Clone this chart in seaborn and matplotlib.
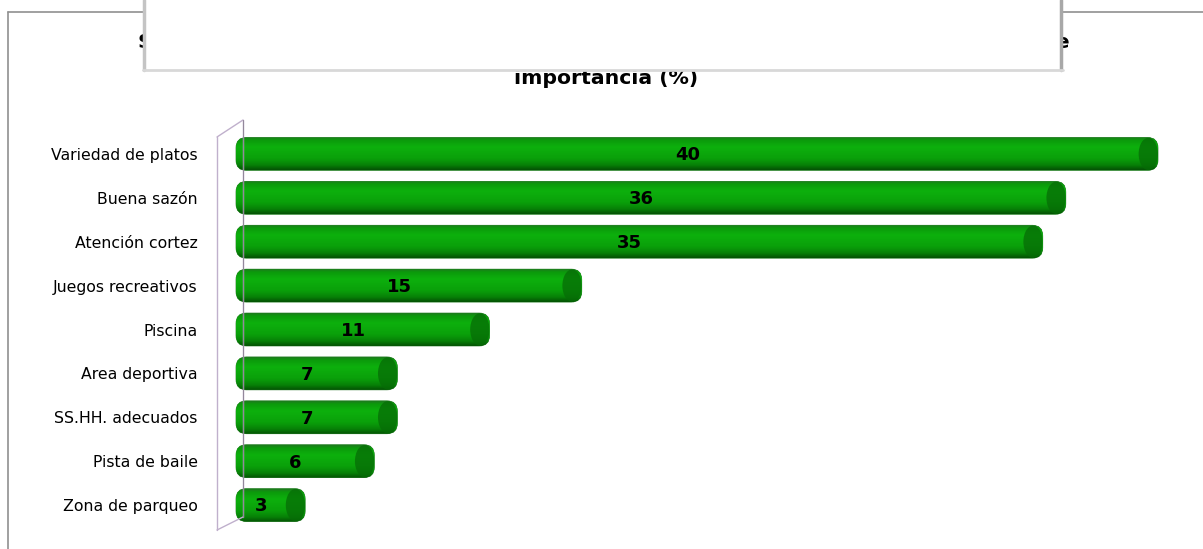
import matplotlib
matplotlib.use("Agg")
import matplotlib.pyplot as plt
import seaborn as sns
import numpy as np
import pandas as pd
from matplotlib.patches import FancyBboxPatch, Rectangle, Ellipse
from matplotlib.lines import Line2D
from matplotlib.colors import LinearSegmentedColormap

categories = ["Variedad de platos", "Buena sazón", "Atención cortez", "Juegos recreativos",
              "Piscina", "Area deportiva", "SS.HH. adecuados", "Pista de baile", "Zona de parqueo"]
values = [40, 36, 35, 15, 11, 7, 7, 6, 3]
title_line1 = "Servicios que los clientes esperan de un restaurante campestre, según orden de"
title_line2 = "importancia (%)"

df = pd.DataFrame({"servicio": categories, "valor": values})

sns.set_theme(style="white")
plt.rcParams["font.family"] = ["DejaVu Sans"]

W, H = 1203, 549
fig = plt.figure(figsize=(W / 100, H / 100), dpi=100)
fig.patch.set_facecolor("white")

def fx(px):
    return px / W

def fy(py):
    return 1 - py / H

ax_left, ax_right, ax_top, ax_bot = 217, 1180, 132, 527
ax = fig.add_axes([fx(ax_left), fy(ax_bot), fx(ax_right - ax_left), (ax_bot - ax_top) / H])

sns.barplot(data=df, x="valor", y="servicio", orient="h", color="#0aa00a",
            width=0.75, ax=ax, saturation=1)

cmap = LinearSegmentedColormap.from_list(
    "cyl", [(0.0, "#1d7a1d"), (0.08, "#0b9a0b"), (0.3, "#0db00d"),
            (0.65, "#0aa00a"), (0.85, "#078207"), (1.0, "#045204")])
grad = np.linspace(0, 1, 64).reshape(-1, 1)

scale = 23.05
for p in list(ax.patches):
    x, y, w, h = p.get_x(), p.get_y(), p.get_width(), p.get_height()
    p.set_visible(False)
    fb = FancyBboxPatch((x, y), w, h, boxstyle="round,pad=0,rounding_size=0.45",
                        mutation_aspect=0.53, facecolor="#0aa00a",
                        edgecolor="#2a7a2a", linewidth=0.5, zorder=3)
    ax.add_patch(fb)
    im = ax.imshow(grad, cmap=cmap, extent=(x, x + w, y + h, y), aspect="auto",
                   zorder=3.5, interpolation="bicubic")
    im.set_clip_path(fb)
    # darker elliptical end cap
    cap = Ellipse((x + w - 0.42, y + h / 2), 0.84, h * 0.98, facecolor="#066c06",
                  edgecolor="none", alpha=0.75, zorder=3.6)
    ax.add_patch(cap)
    cap.set_clip_path(fb)

for i, v in enumerate(values):
    ax.annotate(str(v), (v / 2, i), xytext=(-7, -1), textcoords="offset points",
                ha="center", va="center", fontsize=13, fontweight="bold",
                color="black", zorder=5)

ax.set_xlim(-(236 - ax_left) / scale, (ax_right - 236) / scale)
ax.set_ylim(len(categories) - 0.5, -0.5)
for s in ax.spines.values():
    s.set_visible(False)
ax.set_xticks([])
ax.set_xlabel("")
ax.set_ylabel("")
ax.tick_params(axis="y", length=0, pad=14, labelsize=11.3, labelcolor="black")
ax.set_facecolor("none")

# 3D wall lines
wall_c = "#c0b0cc"
for (x0, y0, x1, y1) in [(217, 137, 217, 530), (217, 137, 243, 120),
                         (217, 530, 243, 517), (243, 120, 243, 517)]:
    fig.add_artist(Line2D([fx(x0), fx(x1)], [fy(y0), fy(y1)], color=wall_c, lw=1.0, zorder=1))
fig.add_artist(Line2D([fx(243), fx(243)], [fy(120), fy(517)], color="#404040",
                      lw=0.8, alpha=0.35, zorder=12))

# outer chart border
fig.add_artist(Line2D([fx(8), fx(1203)], [fy(12), fy(12)], color="#909090", lw=1.2, zorder=2))
fig.add_artist(Line2D([fx(8), fx(8)], [fy(12), fy(549)], color="#909090", lw=1.2, zorder=2))

# title
fig.text(fx(604), fy(42), title_line1, ha="center", va="center", fontsize=14.7,
         fontweight="bold", color="black", zorder=3)
fig.text(fx(606), fy(79), title_line2, ha="center", va="center", fontsize=14.7,
         fontweight="bold", color="black", zorder=3)

# white overlay box on top of the title
fig.add_artist(Rectangle((fx(143), fy(70)), fx(1063 - 143), 70 / H, transform=fig.transFigure,
                         facecolor="white", edgecolor="none", zorder=10))
fig.add_artist(Line2D([fx(144), fx(144)], [fy(0), fy(70)], color="#c4c4c4", lw=2.5, zorder=11))
fig.add_artist(Line2D([fx(1061), fx(1061)], [fy(0), fy(70)], color="#a8a8a8", lw=2.5, zorder=11))
fig.add_artist(Line2D([fx(143), fx(1063)], [fy(70), fy(70)], color="#d8d8d8", lw=2, zorder=11))

fig.savefig("out.png", dpi=100)
